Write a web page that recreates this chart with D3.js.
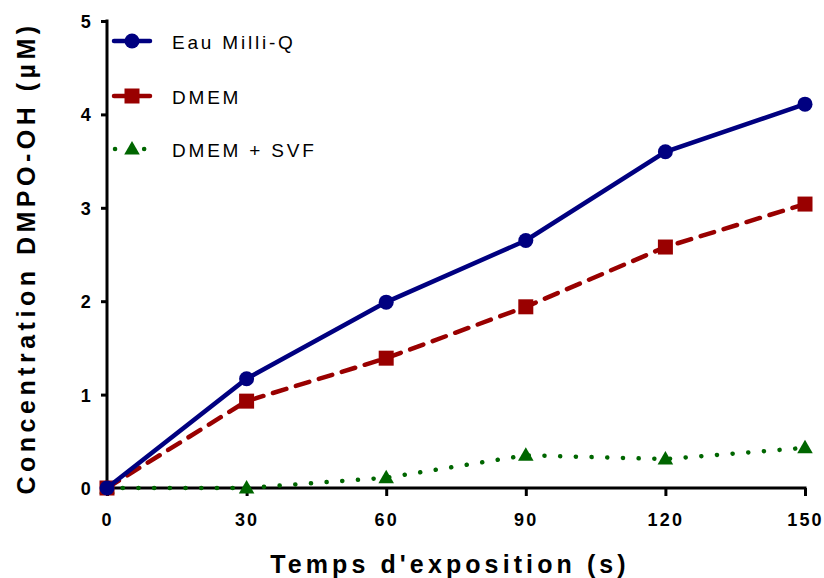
<!DOCTYPE html>
<html><head><meta charset="utf-8">
<script src="https://cdn.jsdelivr.net/npm/d3@7"></script>
<style>body{margin:0;background:#fff}svg{display:block}</style>
</head><body>
<svg id="c" width="824" height="578"></svg>
<script>
const times = [0, 30, 60, 90, 120, 150];
const eauMilliQ = [0, 1.17, 1.99, 2.65, 3.60, 4.11];
const dmem = [0, 0.93, 1.39, 1.94, 2.58, 3.04];
const dmemSvf = [0, 0, 0.11, 0.35, 0.31, 0.43];
const xTicks = [0, 30, 60, 90, 120, 150];
const yTicks = [0, 1, 2, 3, 4, 5];
const seriesNames = ["Eau Milli-Q", "DMEM", "DMEM + SVF"];

const svg = d3.select("#c");
const x = d3.scaleLinear().domain([0, 150]).range([107, 805]);
const y = d3.scaleLinear().domain([0, 5]).range([488, 21]);
const font = "'Liberation Sans', Arial, sans-serif";

// axes
const xa = svg.append("g").attr("transform", "translate(0,488)")
  .call(d3.axisBottom(x).tickValues(xTicks).tickFormat(d3.format("d")).tickSize(8).tickSizeOuter(0).tickPadding(17));
const ya = svg.append("g").attr("transform", "translate(107,0)")
  .call(d3.axisLeft(y).tickValues(yTicks).tickFormat(d3.format("d")).tickSize(6).tickSizeOuter(0).tickPadding(8));
[xa, ya].forEach(a => {
  a.select(".domain").attr("stroke", "#000").attr("stroke-width", 3);
  a.selectAll(".tick line").attr("stroke", "#000").attr("stroke-width", 3);
  a.selectAll(".tick text").attr("font-family", font).attr("font-weight", "bold")
    .attr("font-size", 18).attr("fill", "#000").style("letter-spacing", "2.2px");
});
ya.selectAll(".tick text").attr("dy", "0.36em");
xa.select(".domain").attr("d", "M105.5,0H806.5");
ya.select(".domain").attr("d", "M0,489.5V19.5");

svg.append("text").attr("x", 450).attr("y", 573).attr("text-anchor", "middle")
  .attr("font-family", font).attr("font-weight", "bold").attr("font-size", 25)
  .style("letter-spacing", "4.1px").text("Temps d'exposition (s)");
svg.append("text").attr("transform", "translate(35,258) rotate(-90)").attr("text-anchor", "middle")
  .attr("font-family", font).attr("font-weight", "bold").attr("font-size", 25)
  .style("letter-spacing", "4.5px").text("Concentration DMPO-OH (µM)");

const line = d3.line().x(d => x(d[0])).y(d => y(d[1]));
const series = [
  {name: seriesNames[0], vals: eauMilliQ, color: "#000080", dash: null, width: 4.5, marker: "circle"},
  {name: seriesNames[1], vals: dmem, color: "#990000", dash: "14,10", width: 4.5, marker: "square"},
  {name: seriesNames[2], vals: dmemSvf, color: "#006600", dash: "0.1,15.6", width: 4.5, marker: "triangle"}
];

function marker(g, type, cx, cy, color) {
  if (type === "circle") g.append("circle").attr("cx", cx).attr("cy", cy).attr("r", 7.5).attr("fill", color);
  else if (type === "square") g.append("rect").attr("x", cx - 7.5).attr("y", cy - 7.5).attr("width", 15).attr("height", 15).attr("fill", color);
  else g.append("path").attr("d", d3.symbol(d3.symbolTriangle, 105)()).attr("transform", `translate(${cx},${cy+1})`).attr("fill", color);
}

series.slice().reverse().forEach(s => {
  const pts = times.map((t, i) => [t, s.vals[i]]);
  const g = svg.append("g");
  g.append("path").attr("d", line(pts)).attr("fill", "none").attr("stroke", s.color)
    .attr("stroke-width", s.width).attr("stroke-dasharray", s.dash)
    .attr("stroke-linecap", "round");
  pts.forEach(p => marker(g, s.marker, x(p[0]), y(p[1]), s.color));
});

// legend
const legY = [41, 96, 149];
series.forEach((s, i) => {
  const g = svg.append("g");
  g.append("line").attr("x1", s.marker === "triangle" ? 115 : 114).attr("x2", 150)
    .attr("y1", legY[i]).attr("y2", legY[i]).attr("stroke", s.color).attr("stroke-width", s.width)
    .attr("stroke-dasharray", s.marker === "triangle" ? "0.1,29" : null).attr("stroke-linecap", "round");
  marker(g, s.marker, 132, legY[i], s.color);
  g.append("text").attr("x", 172).attr("y", legY[i] + 8).attr("font-family", font)
    .attr("font-size", 19).style("letter-spacing", "2.8px").attr("fill", "#000").text(s.name);
});
</script>
</body></html>
